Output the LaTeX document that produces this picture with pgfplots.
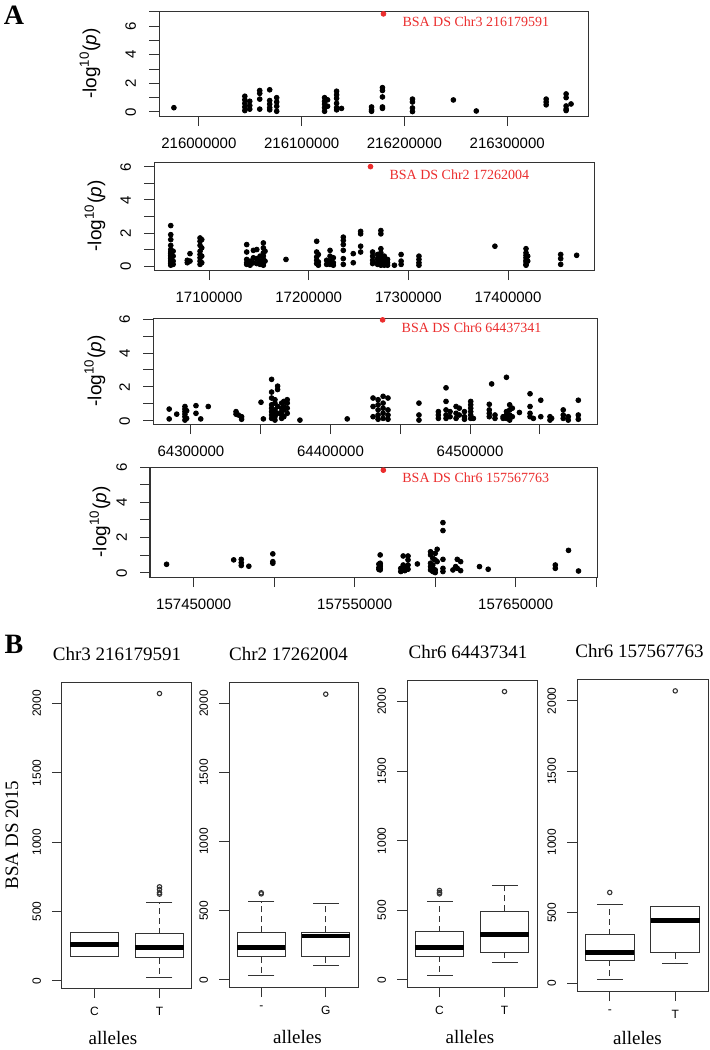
\documentclass[border=0pt]{standalone}
\usepackage{fontspec}
\setmainfont{Liberation Serif}
\setsansfont{Liberation Sans}
\usepackage{pgfplots}
\usepackage{pgfplotstable}
\pgfplotsset{compat=1.18}

\definecolor{frame}{gray}{0.2}
\definecolor{hit}{RGB}{235,45,45}

\tikzset{toplab/.style={anchor=west, xshift=6pt, yshift=-4pt, text=hit, font=\fontsize{7}{8}\selectfont}}

\pgfplotsset{
  manh/.style={scale only axis, anchor=south west, clip=false,
    scaled x ticks=false, scaled y ticks=false,
    axis line style={frame, line width=0.5pt},
    tick style={frame, line width=0.5pt},
    tick align=outside, major tick length=5pt,
    xtick pos=lower, ytick pos=left,
    ticklabel style={font=\fontsize{7.5}{8}\sffamily},
    yticklabel style={rotate=90, anchor=south},
    xticklabel shift=2.5pt, yticklabel shift=3pt,
    ylabel={-log\textsuperscript{10}(\textit{p})},
    every axis y label/.style={rotate=90, anchor=center, font=\fontsize{9.5}{10}\sffamily},
  },
  dots/.style={only marks, mark=*, mark size=1.2pt, black},
  top/.style={only marks, mark=*, mark size=1.2pt, hit},
  bxax/.style={scale only axis, anchor=south west, clip=false,
    xmin=0.5, xmax=2.5, ymin=-52, ymax=2155,
    xtick={1,2}, ytick={0,500,1000,1500,2000}, yticklabels={0,500,1000,1500,2000},
    axis line style={frame, line width=0.5pt},
    tick style={frame, line width=0.5pt},
    tick align=outside, major tick length=5pt,
    xtick pos=lower, ytick pos=left,
    ticklabel style={font=\fontsize{6}{7}\sffamily},
    yticklabel style={rotate=90, anchor=south},
    xticklabel shift=1pt, yticklabel shift=2pt,
    xlabel={alleles},
    every axis x label/.style={at={(axis description cs:0.5,0)}, anchor=center, yshift=-25pt, font=\fontsize{9.5}{11}\selectfont},
    every axis title/.style={at={(axis description cs:0.5,1)}, anchor=center, yshift=14pt, font=\fontsize{9.5}{11}\selectfont},
    every axis y label/.style={rotate=90, anchor=center, font=\fontsize{9.5}{11}\selectfont},
  },
  bline/.style={frame, line width=0.5pt, mark=none},
  wh/.style={frame, line width=0.5pt, mark=none, dash pattern=on 3pt off 2pt},
  cap/.style={frame, only marks, mark=-, mark size=6.5pt, mark options={line width=0.5pt}},
  med/.style={black, line width=2.4pt, mark=none},
  out/.style={frame, only marks, mark=o, mark size=1.1pt, mark options={line width=0.55pt}},
}

% one R-style box: left, centre, right, lower whisker, Q1, median, Q3, upper whisker
\newcommand{\bxp}[8]{%
  \addplot[wh] coordinates {(#2,#5) (#2,#4)};
  \addplot[wh] coordinates {(#2,#7) (#2,#8)};
  \addplot[cap] coordinates {(#2,#4) (#2,#8)};
  \addplot[bline] coordinates {(#1,#5) (#3,#5) (#3,#7) (#1,#7) (#1,#5)};
  \addplot[med] coordinates {(#1,#6) (#3,#6)};
}

\begin{document}

% Chr3 region
\pgfplotstableread[row sep=\\]{
x y\\
215975700 0.30\\
216044700 1.10\\ 216044700 0.85\\ 216044700 0.60\\ 216044700 0.35\\ 216044700 0.10\\
216049500 0.75\\ 216049500 0.45\\ 216049500 0.20\\
216059200 1.50\\ 216059200 1.30\\ 216059200 0.90\\ 216059200 0.20\\
216068900 1.55\\ 216068900 0.80\\ 216068900 0.55\\ 216068900 0.30\\ 216068900 0.15\\
216075700 1.00\\ 216075700 0.70\\ 216075700 0.40\\ 216075700 0.05\\
216122300 1.00\\ 216122300 0.75\\ 216122300 0.55\\ 216122300 0.30\\ 216122300 0.05\\
216125200 0.85\\ 216125200 0.40\\
216134000 1.45\\ 216134000 1.20\\ 216134000 0.95\\ 216134000 0.60\\ 216134000 0.30\\ 216134000 0.15\\
216138800 0.25\\
216168000 0.35\\ 216168000 0.15\\ 216168000 0.05\\
216178600 1.70\\ 216178600 1.50\\ 216178600 1.05\\ 216178600 0.35\\ 216178600 0.25\\
216207800 0.90\\ 216207800 0.70\\ 216207800 0.28\\ 216207800 0.03\\
216247600 0.84\\
216269900 0.07\\
216337900 0.90\\ 216337900 0.70\\ 216337900 0.50\\
216357300 1.26\\ 216357300 1.00\\ 216357300 0.42\\ 216357300 0.20\\ 216357300 0.10\\
216362100 0.56\\
}\chrthree

% Chr2 region
\pgfplotstableread[row sep=\\]{
x y\\
17061600 2.45\\ 17061600 1.90\\ 17061600 1.60\\ 17061600 1.25\\ 17061600 1.00\\ 17061600 0.85\\ 17061600 0.75\\
17061600 0.65\\ 17061600 0.55\\ 17061600 0.45\\ 17061600 0.35\\ 17061600 0.25\\ 17061600 0.15\\ 17061600 0.05\\
17064000 0.90\\ 17064000 0.60\\ 17064000 0.30\\ 17064000 0.10\\
17078200 0.35\\ 17078200 0.20\\
17080900 0.75\\ 17080900 0.30\\
17091000 1.70\\ 17091000 1.50\\ 17091000 1.25\\ 17091000 0.90\\ 17091000 0.70\\ 17091000 0.50\\ 17091000 0.30\\ 17091000 0.10\\
17092700 1.60\\ 17092700 1.10\\ 17092700 0.60\\ 17092700 0.20\\
17137800 1.30\\ 17137800 0.85\\ 17137800 0.40\\ 17137800 0.20\\ 17137800 0.10\\
17141200 0.30\\ 17141200 0.15\\ 17141200 0.05\\
17144500 0.95\\ 17144500 0.50\\ 17144500 0.20\\
17147900 1.00\\ 17147900 0.45\\ 17147900 0.15\\
17151200 0.60\\ 17151200 0.30\\ 17151200 0.10\\
17154500 1.40\\ 17154500 1.10\\ 17154500 0.80\\ 17154500 0.60\\ 17154500 0.40\\ 17154500 0.20\\ 17154500 0.05\\
17156200 0.90\\ 17156200 0.30\\
17177200 0.40\\
17208000 1.50\\ 17208000 0.85\\ 17208000 0.55\\ 17208000 0.35\\ 17208000 0.15\\
17209700 0.70\\ 17209700 0.25\\ 17209700 0.05\\
17218000 0.35\\ 17218000 0.10\\
17221400 0.95\\ 17221400 0.60\\ 17221400 0.30\\ 17221400 0.10\\
17224700 0.50\\ 17224700 0.20\\ 17224700 0.05\\
17234700 1.75\\ 17234700 1.55\\ 17234700 1.30\\ 17234700 0.95\\ 17234700 0.45\\ 17234700 0.10\\
17244700 0.75\\ 17244700 0.20\\
17252100 2.10\\ 17252100 1.95\\ 17252100 1.20\\ 17252100 0.85\\
17264100 0.85\\ 17264100 0.60\\ 17264100 0.35\\ 17264100 0.15\\
17269100 0.70\\ 17269100 0.45\\ 17269100 0.25\\ 17269100 0.10\\
17272400 2.15\\ 17272400 1.95\\ 17272400 1.05\\ 17272400 0.80\\ 17272400 0.60\\ 17272400 0.40\\ 17272400 0.20\\ 17272400 0.05\\
17275800 0.60\\ 17275800 0.35\\ 17275800 0.15\\ 17275800 0.05\\
17279100 0.40\\ 17279100 0.20\\ 17279100 0.05\\
17286000 0.05\\
17292700 0.70\\ 17292700 0.30\\ 17292700 0.10\\
17310600 0.60\\ 17310600 0.40\\ 17310600 0.20\\ 17310600 0.05\\
17386800 1.20\\
17418000 1.05\\ 17418000 0.80\\ 17418000 0.65\\ 17418000 0.50\\ 17418000 0.35\\ 17418000 0.25\\ 17418000 0.10\\ 17418000 0.05\\
17419700 0.60\\ 17419700 0.30\\
17452800 0.70\\ 17452800 0.45\\ 17452800 0.10\\
17468800 0.65\\
}\chrtwo

% Chr6 region around 64.4 Mb
\pgfplotstableread[row sep=\\]{
x y\\
64284400 0.70\\ 64284400 0.12\\
64289800 0.40\\
64295700 0.85\\ 64295700 0.70\\ 64295700 0.55\\ 64295700 0.40\\ 64295700 0.25\\ 64295700 0.05\\
64296900 0.60\\ 64296900 0.15\\
64303600 0.90\\ 64303600 0.45\\
64307000 0.12\\
64312400 0.85\\
64332300 0.55\\ 64332300 0.40\\
64334000 0.35\\
64336300 0.25\\ 64336300 0.10\\
64350200 1.10\\
64351900 0.12\\
64357800 2.45\\ 64357800 1.70\\ 64357800 1.35\\ 64357800 0.95\\ 64357800 0.75\\ 64357800 0.55\\ 64357800 0.35\\ 64357800 0.15\\
64360200 1.25\\ 64360200 1.05\\ 64360200 0.65\\ 64360200 0.45\\ 64360200 0.25\\ 64360200 0.05\\
64362100 2.05\\ 64362100 1.85\\ 64362100 0.85\\ 64362100 0.45\\
64365000 1.05\\ 64365000 0.75\\ 64365000 0.55\\ 64365000 0.35\\ 64365000 0.15\\
64366600 1.15\\ 64366600 0.85\\ 64366600 0.65\\ 64366600 0.25\\
64369000 1.25\\ 64369000 1.05\\ 64369000 0.75\\ 64369000 0.45\\
64378100 0.05\\
64412000 0.12\\
64430500 1.35\\ 64430500 0.85\\ 64430500 0.25\\
64434100 1.25\\ 64434100 0.95\\ 64434100 0.65\\ 64434100 0.35\\ 64434100 0.10\\
64437700 1.45\\ 64437700 1.05\\ 64437700 0.75\\ 64437700 0.45\\ 64437700 0.15\\
64441200 1.35\\ 64441200 0.65\\ 64441200 0.35\\ 64441200 0.10\\
64463400 1.05\\ 64463400 0.35\\ 64463400 0.05\\
64477300 0.55\\ 64477300 0.35\\ 64477300 0.15\\
64482800 1.95\\ 64482800 1.15\\ 64482800 0.65\\ 64482800 0.35\\ 64482800 0.15\\
64485700 0.55\\ 64485700 0.25\\
64490000 0.85\\ 64490000 0.45\\ 64490000 0.15\\
64492300 0.75\\ 64492300 0.35\\
64496000 0.55\\ 64496000 0.25\\ 64496000 0.10\\
64500500 1.15\\ 64500500 0.95\\ 64500500 0.75\\ 64500500 0.55\\ 64500500 0.35\\ 64500500 0.15\\
64502400 0.15\\
64513800 0.98\\ 64513800 0.65\\ 64513800 0.45\\ 64513800 0.25\\
64515500 2.18\\
64517900 0.35\\ 64517900 0.15\\
64523700 0.25\\ 64523700 0.15\\
64526100 2.57\\ 64526100 0.55\\ 64526100 0.35\\ 64526100 0.15\\
64528400 0.95\\ 64528400 0.65\\ 64528400 0.35\\ 64528400 0.05\\
64530300 0.75\\ 64530300 0.25\\
64535400 0.50\\
64543000 1.60\\ 64543000 0.85\\ 64543000 0.45\\ 64543000 0.25\\
64545400 0.15\\
64550700 1.22\\ 64550700 0.25\\
64557300 0.25\\ 64557300 0.05\\
64558500 0.15\\
64566800 0.65\\ 64566800 0.35\\ 64566800 0.15\\
64570400 0.25\\ 64570400 0.05\\
64577600 1.22\\ 64577600 0.35\\ 64577600 0.10\\
}\chrsixa

% Chr6 region around 157.5 Mb
\pgfplotstableread[row sep=\\]{
x y\\
157433100 0.49\\
157474800 0.74\\
157479500 0.77\\ 157479500 0.58\\ 157479500 0.42\\
157484200 0.38\\
157499100 1.08\\ 157499100 0.64\\ 157499100 0.55\\
157565000 0.50\\ 157565000 0.30\\ 157565000 0.20\\
157565800 1.02\\ 157565800 0.55\\ 157565800 0.45\\ 157565800 0.36\\ 157565800 0.26\\ 157565800 0.17\\
157578600 0.26\\ 157578600 0.08\\
157580100 0.96\\ 157580100 0.45\\ 157580100 0.17\\
157581100 0.36\\ 157581100 0.13\\
157583100 0.96\\ 157583100 0.74\\ 157583100 0.45\\ 157583100 0.21\\
157588900 0.51\\
157597100 1.20\\ 157597100 1.02\\ 157597100 0.55\\ 157597100 0.36\\ 157597100 0.17\\
157598500 0.83\\ 157598500 0.45\\ 157598500 0.26\\ 157598500 0.08\\
157600000 1.11\\ 157600000 0.74\\ 157600000 0.17\\ 157600000 0.02\\
157601200 1.34\\ 157601200 0.64\\
157604800 2.85\\ 157604800 2.40\\ 157604800 0.77\\ 157604800 0.26\\ 157604800 0.08\\
157611000 0.17\\
157612700 0.36\\
157613700 0.77\\ 157613700 0.26\\
157615800 0.64\\ 157615800 0.13\\
157627500 0.36\\
157632900 0.21\\
157674600 0.45\\ 157674600 0.26\\
157682800 1.28\\
157689000 0.11\\
}\chrsixb

\begin{tikzpicture}
\useasboundingbox (0pt,0pt) rectangle (355pt,-525pt);

\node[font=\fontsize{14}{16}\selectfont\bfseries] at (7pt,-7.5pt) {A};
\node[font=\fontsize{14}{16}\selectfont\bfseries] at (7pt,-322pt) {B};

% ---------- A: regional association plots ----------
\begin{axis}[manh, at={(79.5pt,-58pt)}, width=214.5pt, height=52.5pt,
  xmin=215961200, xmax=216378600, ymin=-0.28, ymax=7.05,
  xtick={216000000,216100000,216200000,216300000},
  xticklabels={216000000,216100000,216200000,216300000},
  ytick={0,1,2,3,4,5,6,7}, yticklabels={0,,2,,4,,6,},
  ylabel style={at={(axis description cs:-0.161,0.5)}}]
\addplot[dots] table {\chrthree};
\addplot[top] coordinates {(216179591,6.85)};
\node[toplab] at (axis cs:216179591,6.85) {BSA DS Chr3 216179591};
\end{axis}

\begin{axis}[manh, at={(77pt,-135pt)}, width=220.5pt, height=54pt,
  xmin=17044800, xmax=17487200, ymin=-0.24, ymax=6.3,
  xtick={17100000,17200000,17300000,17400000},
  xticklabels={17100000,17200000,17300000,17400000},
  ytick={0,1,2,3,4,5,6}, yticklabels={0,,2,,4,,6},
  ylabel style={at={(axis description cs:-0.134,0.5)}}]
\addplot[dots] table {\chrtwo};
\addplot[top] coordinates {(17262004,6.02)};
\node[toplab] at (axis cs:17262004,6.02) {BSA DS Chr2 17262004};
\end{axis}

\begin{axis}[manh, at={(76.5pt,-212pt)}, width=222pt, height=53pt,
  xmin=64272800, xmax=64591000, ymin=-0.18, ymax=6.06,
  xtick={64300000,64350000,64400000,64450000,64500000,64550000},
  xticklabels={64300000,,64400000,,64500000,},
  ytick={0,1,2,3,4,5,6}, yticklabels={0,,2,,4,,6},
  ylabel style={at={(axis description cs:-0.131,0.5)}}]
\addplot[dots] table {\chrsixa};
\addplot[top] coordinates {(64437341,5.95)};
\node[toplab] at (axis cs:64437341,5.95) {BSA DS Chr6 64437341};
\end{axis}

\begin{axis}[manh, at={(75pt,-288.5pt)}, width=223.5pt, height=55pt,
  xmin=157422800, xmax=157700500, ymin=-0.23, ymax=6.0,
  xtick={157450000,157500000,157550000,157600000,157650000,157700000},
  xticklabels={157450000,,157550000,,157650000,},
  ytick={0,1,2,3,4,5,6}, yticklabels={0,,2,,4,,6},
  ylabel style={at={(axis description cs:-0.112,0.5)}}]
\addplot[dots] table {\chrsixb};
\addplot[top] coordinates {(157567763,5.82)};
\node[toplab] at (axis cs:157567763,5.82) {BSA DS Chr6 157567763};
\end{axis}

% ---------- B: phenotype by allele ----------
\begin{axis}[bxax, at={(31pt,-494pt)}, width=65pt, height=153pt,
  xticklabels={C,T}, title={Chr3 216179591}, title style={xshift=-5pt},
  xlabel style={xshift=-7pt},
  ylabel={BSA DS 2015}, ylabel style={at={(axis description cs:-0.385,0.5)}}]
\bxp{0.625}{1}{1.375}{173}{173}{262}{349}{349}
\bxp{1.625}{2}{2.375}{24}{166}{238}{341}{562}
\addplot[out] coordinates {(2,2072) (2,678) (2,659) (2,635) (2,625)};
\end{axis}

\begin{axis}[bxax, at={(114.5pt,-493.5pt)}, width=64.5pt, height=152.5pt,
  xticklabels={-,G}, title={Chr2 17262004}, title style={xshift=-2.5pt},
  xlabel style={xshift=2pt}]
\bxp{0.625}{1}{1.375}{29}{168}{233}{344}{565}
\bxp{1.625}{2}{2.375}{101}{168}{317}{344}{553}
\addplot[out] coordinates {(1,630) (1,622) (2,2067)};
\end{axis}

\begin{axis}[bxax, at={(203.5pt,-493.5pt)}, width=65pt, height=153.5pt,
  xticklabels={C,T}, title={Chr6 64437341}, title style={xshift=-2pt},
  xlabel style={xshift=-1pt}]
\bxp{0.625}{1}{1.375}{29}{168}{232}{347}{563}
\bxp{1.625}{2}{2.375}{125}{199}{323}{491}{678}
\addplot[out] coordinates {(1,642) (1,628) (1,618) (2,2072)};
\end{axis}

\begin{axis}[bxax, at={(288.5pt,-495.5pt)}, width=65.5pt, height=156pt,
  xticklabels={-,T}, title={Chr6 157567763}, title style={xshift=-1.5pt},
  xlabel style={xshift=-2.5pt, yshift=1.5pt}]
\bxp{0.625}{1}{1.375}{28}{165}{220}{347}{562}
\bxp{1.625}{2}{2.375}{146}{220}{449}{548}{548}
\addplot[out] coordinates {(1,645) (2,2071)};
\end{axis}
\end{tikzpicture}
\end{document}
